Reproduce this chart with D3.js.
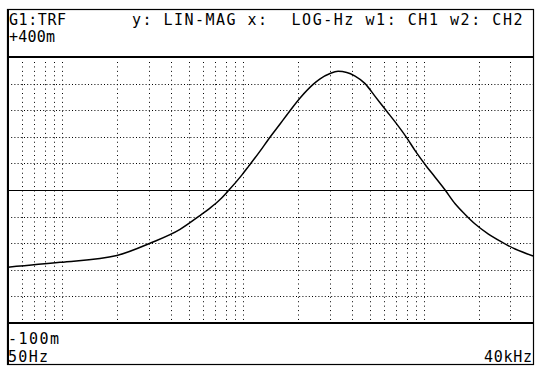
<!DOCTYPE html>
<html>
<head>
<meta charset="utf-8">
<script src="https://cdn.jsdelivr.net/npm/d3@7"></script>
<style>
  html, body { margin: 0; padding: 0; background: #fff; }
  svg { display: block; }
  text { font-family: "DejaVu Sans Mono", monospace; font-size: 15px; fill: #000; }
</style>
</head>
<body>
<svg id="chart" width="535" height="369"></svg>
<script>
// ---- data ----
const freqHz = [50, 97, 200, 305, 447, 576, 655, 744, 824, 981, 1067, 1238, 1376, 1597, 1740, 2061, 2442, 2659, 3020, 3344, 3735,
                4152, 4716, 5356, 6216, 6911, 8020, 8915, 10127, 11502, 13065, 14840, 16856, 19145, 22677, 26897, 31856, 40000];
const magM = [5, 14, 27, 50, 76, 102, 116, 132, 148, 178, 194, 223, 245, 274, 291, 323, 349, 359, 369, 373, 371,
              364, 350, 326, 298, 278, 248, 224, 198, 174, 150, 124, 104, 86, 67, 52, 39, 26];
const xDomain = [50, 40000];
const yDomain = [-100, 400];
const yGridVals = [-50, 0, 50, 100, 200, 250, 300, 350];
const yCenter = 150;
const xGridVals = [60, 70, 80, 90, 100, 200, 300, 400, 500, 600, 700, 800, 900, 1000,
                   2000, 3000, 4000, 5000, 6000, 7000, 8000, 9000, 10000, 20000, 30000];
const headerLabels = ["G1:TRF", "y: LIN-MAG x:", "LOG-Hz w1: CH1 w2: CH2"];
const yTopLabel = "+400m";
const yBottomLabel = "-100m";
const xLeftLabel = "50Hz";
const xRightLabel = "40kHz";

// ---- layout ----
const svg = d3.select("#chart");
const pL = 8, pR = 533, pT = 57, pB = 323;
const x = d3.scaleLog().domain(xDomain).range([pL, pR]);
const y = d3.scaleLinear().domain(yDomain).range([pB, pT]);

// dotted grid
const grid = svg.append("g");
grid.selectAll("line.h").data(yGridVals).join("line")
  .attr("x1", pL).attr("x2", pR)
  .attr("y1", d => Math.round(y(d)) + 0.5).attr("y2", d => Math.round(y(d)) + 0.5)
  .attr("stroke", "#000").attr("stroke-width", 1).attr("stroke-dasharray", "1,2.2");
grid.selectAll("line.v").data(xGridVals).join("line")
  .attr("x1", d => Math.round(x(d)) + 0.5).attr("x2", d => Math.round(x(d)) + 0.5)
  .attr("y1", pT + 5).attr("y2", pB)
  .attr("stroke", "#000").attr("stroke-width", 1).attr("stroke-dasharray", "1,3.43");

// solid lines
svg.append("line").attr("x1", pL).attr("x2", pR).attr("y1", pT).attr("y2", pT)
  .attr("stroke", "#000").attr("stroke-width", 1.8);
svg.append("line").attr("x1", pL).attr("x2", pR).attr("y1", pB).attr("y2", pB)
  .attr("stroke", "#000").attr("stroke-width", 1.8);
svg.append("line").attr("x1", pL).attr("x2", pR)
  .attr("y1", Math.round(y(yCenter)) + 0.5).attr("y2", Math.round(y(yCenter)) + 0.5)
  .attr("stroke", "#000").attr("stroke-width", 1.2);

// outer frame
svg.append("rect").attr("x", 7.5).attr("y", 9.5).attr("width", 526).attr("height", 355)
  .attr("fill", "none").attr("stroke", "#000").attr("stroke-width", 1.2);
svg.append("line").attr("x1", 8).attr("x2", 8).attr("y1", 9).attr("y2", 365)
  .attr("stroke", "#000").attr("stroke-width", 2);

// curve
const line = d3.line().x((d, i) => x(freqHz[i])).y(d => y(d)).curve(d3.curveMonotoneX);
svg.append("path").datum(magM).attr("d", line)
  .attr("fill", "none").attr("stroke", "#000").attr("stroke-width", 1.5).attr("stroke-linejoin", "round");

// text
const hdr = [[9, 57], [132, 135], [291.5, 231]];
headerLabels.forEach((t, i) => {
  svg.append("text").attr("x", hdr[i][0]).attr("y", 24.5)
    .attr("textLength", hdr[i][1]).attr("lengthAdjust", "spacing").text(t);
});
svg.append("text").attr("x", 9).attr("y", 42).attr("textLength", 46).attr("lengthAdjust", "spacing").text(yTopLabel);
svg.append("text").attr("x", 8).attr("y", 344).attr("textLength", 51).attr("lengthAdjust", "spacing").text(yBottomLabel);
svg.append("text").attr("x", 8).attr("y", 362).attr("textLength", 40).attr("lengthAdjust", "spacing").text(xLeftLabel);
svg.append("text").attr("x", 532).attr("y", 362).attr("text-anchor", "end").attr("textLength", 48).attr("lengthAdjust", "spacing").text(xRightLabel);
</script>
</body>
</html>
